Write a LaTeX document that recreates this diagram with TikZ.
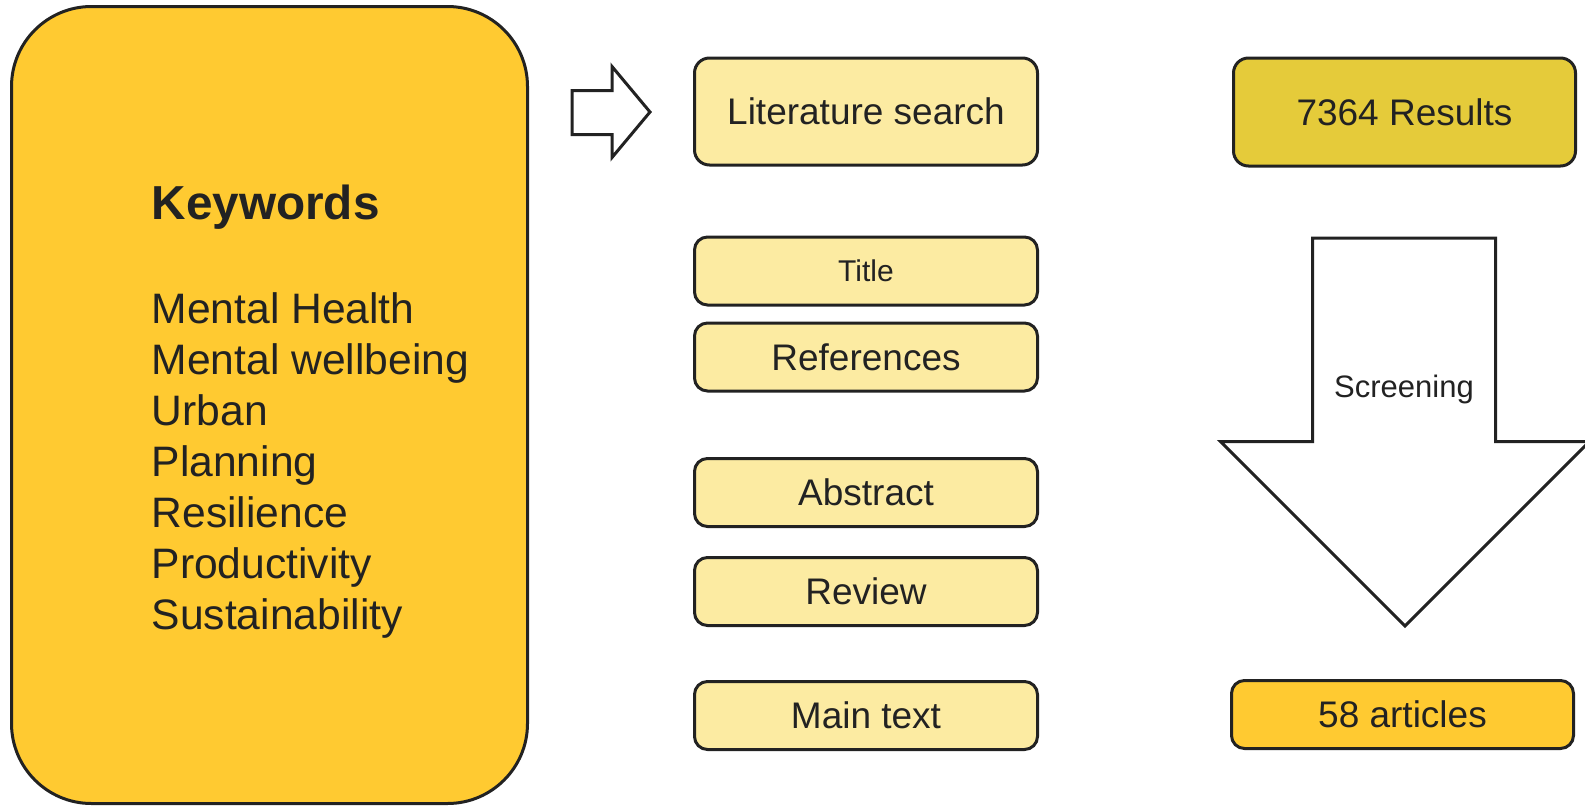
\documentclass[tikz,border=0pt]{standalone}
\usepackage{fontspec}
\setmainfont{Liberation Sans}
\definecolor{ink}{HTML}{222222}
\definecolor{kwfill}{HTML}{FFCA31}
\definecolor{light}{HTML}{FCEBA2}
\definecolor{resfill}{HTML}{E5CB3A}
\begin{document}
\begin{tikzpicture}[x=1pt,y=-1pt]
\tikzset{
  kwbox/.style={draw=ink, line width=3pt, fill=kwfill, rounded corners=80pt, minimum width=516pt, minimum height=797pt, inner sep=0pt},
  kwtitle/.style={inner sep=0pt, text=ink, anchor=base west, font=\fontsize{47.7}{56}\selectfont\bfseries},
  kwitem/.style={inner sep=0pt, text=ink, anchor=base west, font=\fontsize{42.6}{51}\selectfont},
  box/.style={draw=ink, line width=3pt, fill=light, rounded corners=13pt, minimum width=343pt, minimum height=68pt, inner sep=0pt, text=ink, font=\fontsize{37}{44}\selectfont},
  bigbox/.style={box, minimum height=107pt, rounded corners=15pt},
  arrowshape/.style={draw=ink, line width=3pt, fill=white, line join=miter},
}
\clip (0,0) rectangle (1585,806);
\fill[white] (0,0) rectangle (1585,806);

% keyword panel
\node[kwbox] (kw) at (269.5,405) {};
\node[kwtitle] (kwt) at (151.5,219) {Keywords};
\foreach \t [count=\i] in {Mental Health,Mental wellbeing,Urban,Planning,Resilience,Productivity,Sustainability}
  \node[kwitem] (kw\i) at (151.5,{323.5+51*(\i-1)}) {\t};

% right arrow
\draw[arrowshape] (572,90.5) -- (612,90.5) -- (612,66.5) -- (650,112) -- (612,157.5) -- (612,134.5) -- (572,134.5) -- cycle;

% middle column
\node[bigbox] (lit) at (866,111.5) {Literature search};
\node[box, font=\fontsize{30}{36}\selectfont] (title) at (866,271) {Title};
\node[box] (refs) at (866,357) {References};
\node[box] (abs) at (866,492.5) {Abstract};
\node[box] (rev) at (866,591.5) {Review};
\node[box] (main) at (866,715.5) {Main text};

% right column
\node[bigbox, fill=resfill, minimum width=342pt, minimum height=108pt] (res) at (1404.5,112) {7364 Results};
\draw[arrowshape] (1312.5,238) -- (1495.5,238) -- (1495.5,441.5) -- (1589.5,441.5) -- (1405,626) -- (1220.5,441.5) -- (1312.5,441.5) -- cycle;
\node[inner sep=0pt, text=ink, anchor=base, font=\fontsize{31}{37}\selectfont] (scr) at (1404,397) {Screening};
\node[box, fill=kwfill, minimum width=342pt] (art) at (1402.5,714.5) {58 articles};
\end{tikzpicture}
\end{document}
